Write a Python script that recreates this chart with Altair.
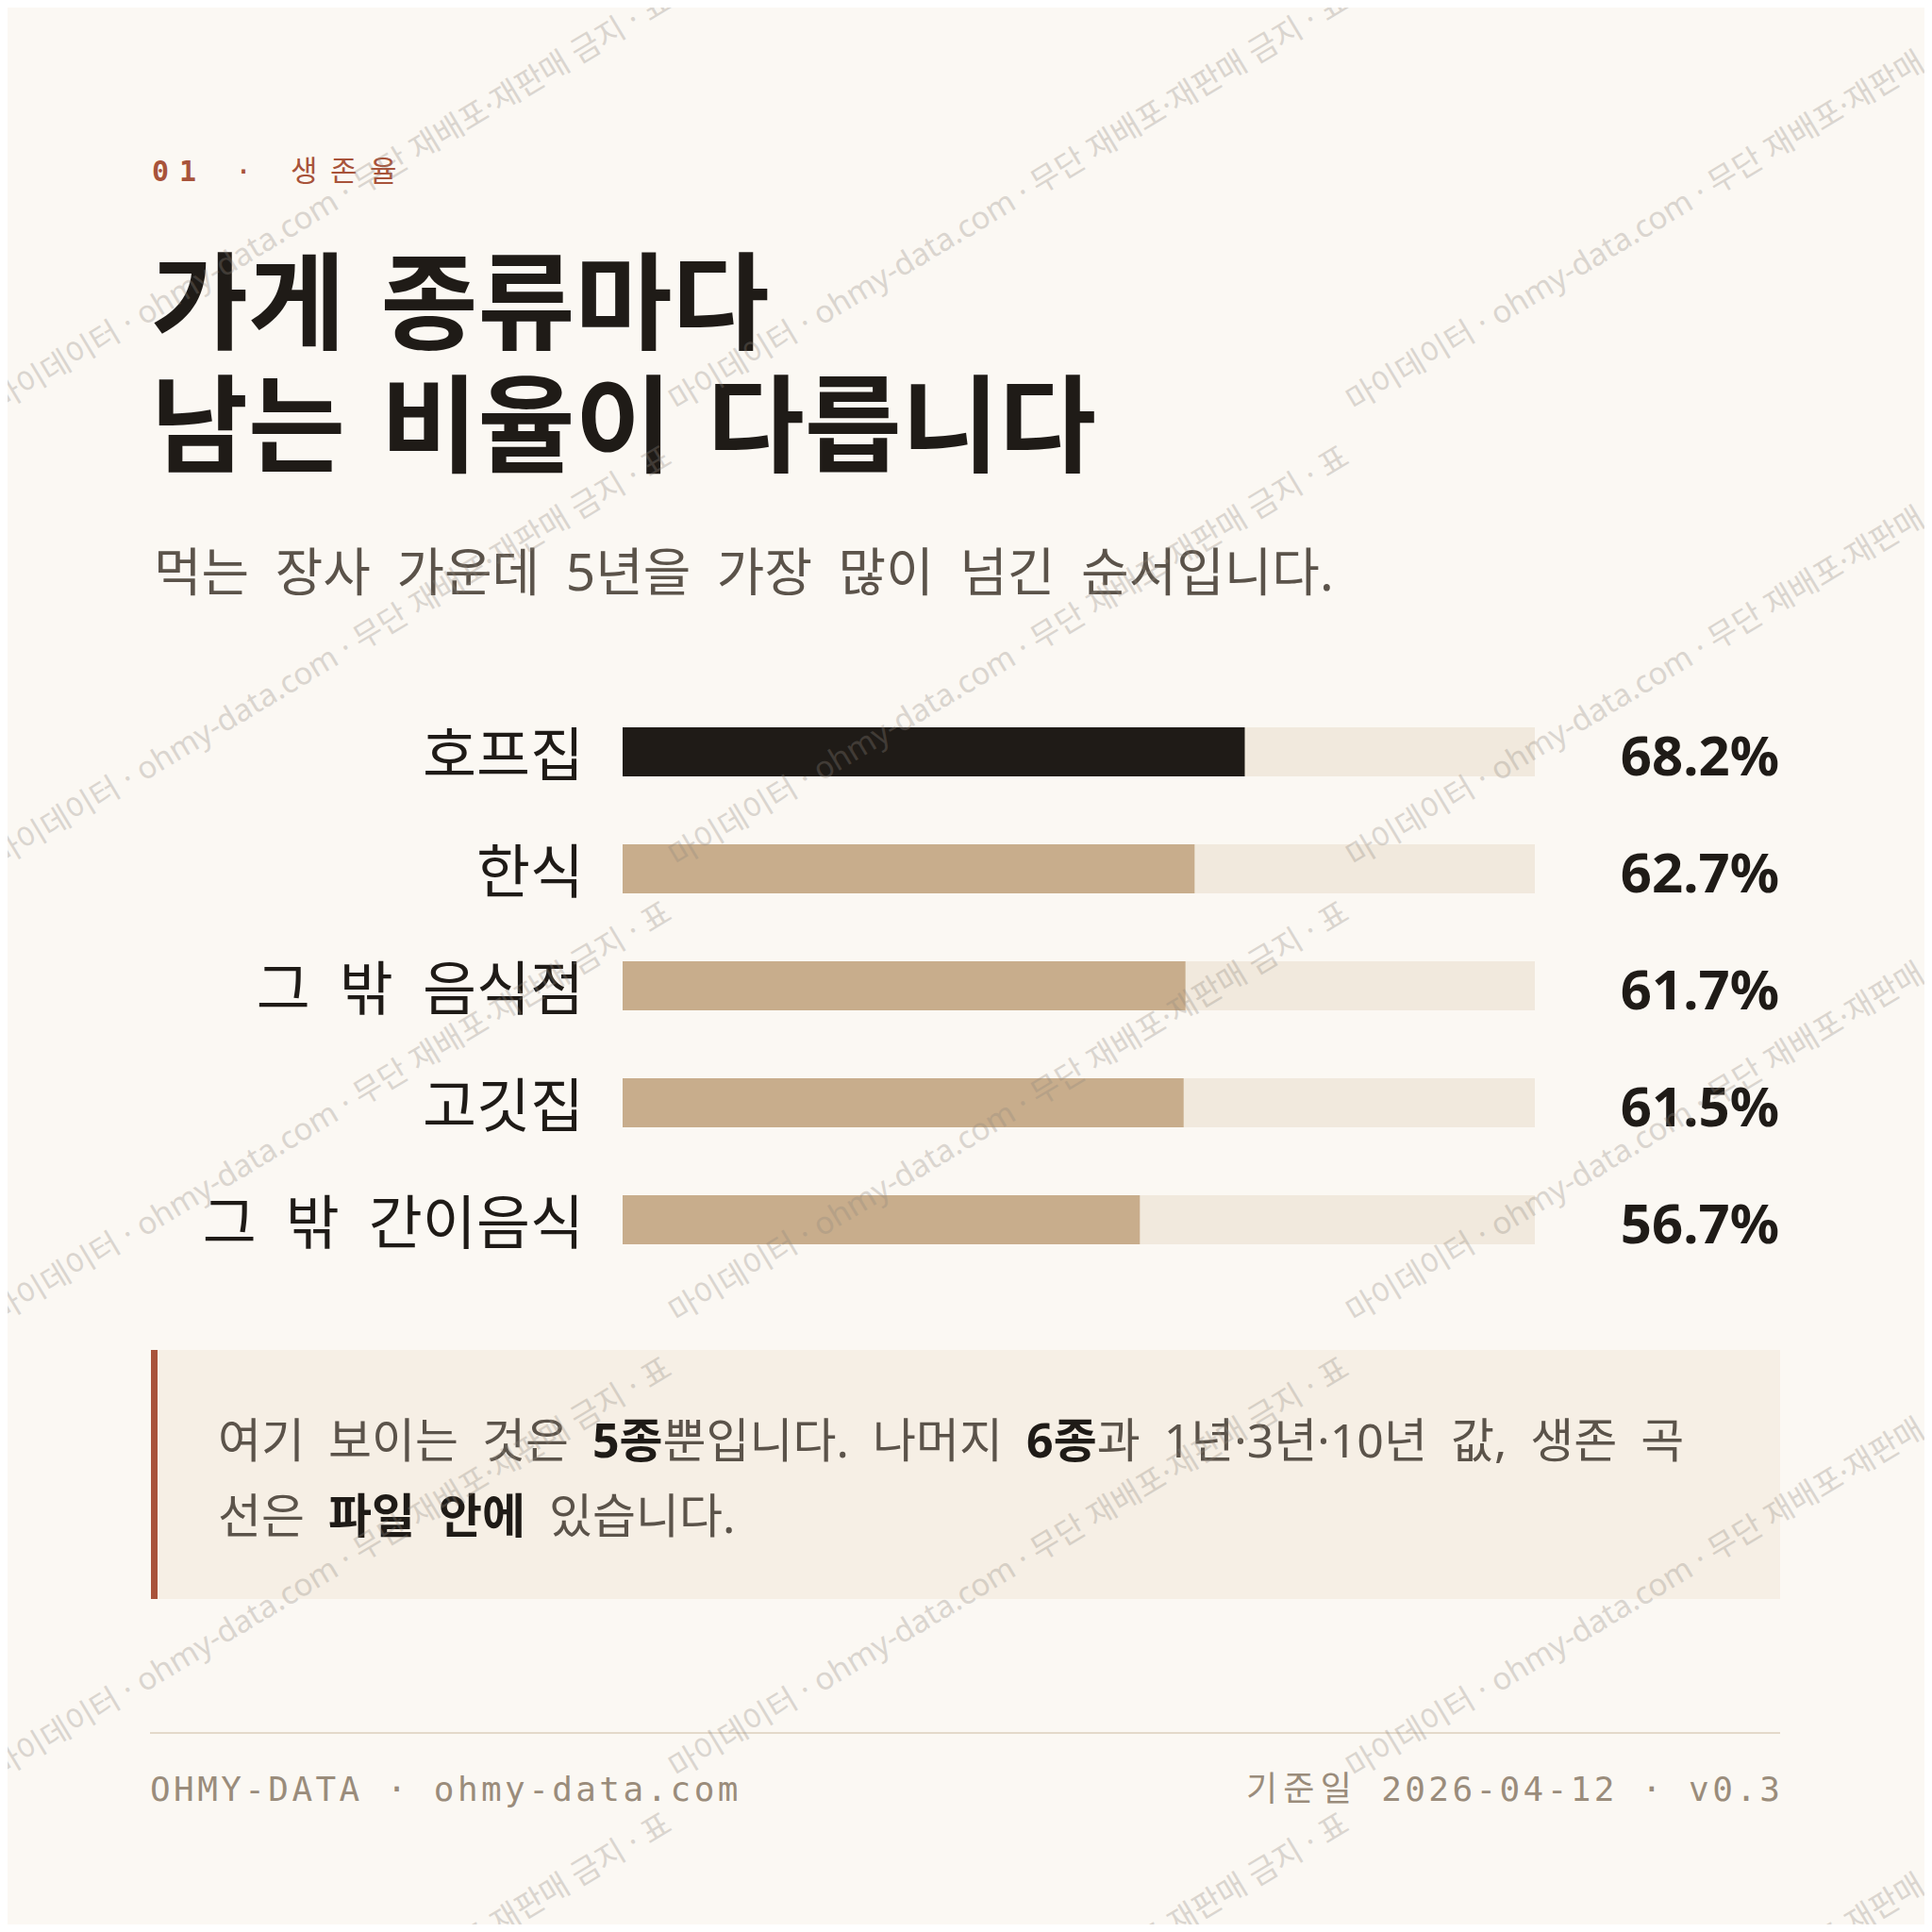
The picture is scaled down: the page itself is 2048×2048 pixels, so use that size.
import pandas as pd
import altair as alt

# page margin: chart origin sits 8px in from the page corner
OFF = 8

SANS = "'Noto Sans', 'Noto Sans CJK KR', sans-serif"
MONO = "'DejaVu Sans Mono', 'Noto Sans CJK KR', monospace"

BG = "#FBF8F3"
INK = "#1F1B17"
BODY = "#5B534A"
TAN = "#C8AD8C"
TRACK = "#F1E9DD"
RUST = "#A8533A"
MUTED = "#9A8C7B"

# ---- data ----
categories = ["호프집", "한식", "그 밖 음식점", "고깃집", "그 밖 간이음식"]
rates = [68.2, 62.7, 61.7, 61.5, 56.7]
highlight = "호프집"

kicker_num = "01"
kicker_rest = " · 생존율"
title_lines = ["가게 종류마다", "남는 비율이 다릅니다"]
subtitle = "먹는 장사 가운데 5년을 가장 많이 넘긴 순서입니다."

# (text, bold) - a leading space means a gap before the segment
note_line1 = [("여기 보이는 것은", False), (" 5종", True), ("뿐입니다. 나머지", False),
              (" 6종", True), ("과 1년·3년·10년 값, 생존 곡", False)]
note_line2 = [("선은", False), (" 파일 안에", True), (" 있습니다.", False)]

footer_left = "OHMY-DATA · ohmy-data.com"
footer_right = "기준일 2026-04-12 · v0.3"
watermark = "마이데이터 · ohmy-data.com · 무단 재배포·재판매 금지 · 표"

WIDE = "\u2002"  # en space, closer to the wide word gaps of the original


def wide(s, gap=WIDE):
    return s.replace(" ", gap)


def is_hangul(ch):
    return "\uac00" <= ch <= "\ud7a3"


def em_width(s, bold=False):
    # rough advance widths: Hangul from Noto Sans CJK KR, the rest from Noto Sans
    w = 0.0
    for ch in s:
        if is_hangul(ch):
            w += 0.92
        elif ch == " ":
            w += 0.26
        elif ch == WIDE:
            w += 0.5
        elif ch.isdigit():
            w += 0.572
        elif ch in ".,·":
            w += 0.27
        else:
            w += 0.55
    return w


def rich_line(segments, x0, y, size):
    rows = []
    x = x0
    for text, bold in segments:
        lead = len(text) - len(text.lstrip(" "))
        x += lead * 0.5 * size
        body = wide(text.strip(" "))
        rows.append({"x": x - OFF, "y": y - OFF, "t": body, "bold": bold})
        x += em_width(body, bold) * size
    return rows


def mono_chars(s, x0, y, size, spacing, align="left"):
    adv = [(size if is_hangul(ch) else 0.602 * size) + spacing for ch in s]
    total = sum(adv) - spacing
    x = x0 if align == "left" else x0 - total
    rows = []
    for ch, a in zip(s, adv):
        if ch != " ":
            rows.append({"x": x - OFF, "y": y - OFF, "t": ch})
        x += a
    return rows


def text_layer(rows, size, color, weight=400, font=SANS, align="left", angle=0, opacity=1.0):
    return alt.Chart(pd.DataFrame(rows)).mark_text(
        align=align, baseline="alphabetic", fontSize=size, font=font,
        fontWeight=weight, color=color, angle=angle, opacity=opacity
    ).encode(
        x=alt.X("x:Q", scale=None, axis=None),
        y=alt.Y("y:Q", scale=None, axis=None),
        text="t:N",
    )


def box(x, x2, y, y2, color):
    return alt.Chart(pd.DataFrame({"a": [0]})).mark_rect(color=color).encode(
        x=alt.value(x - OFF), x2=alt.value(x2 - OFF),
        y=alt.value(y - OFF), y2=alt.value(y2 - OFF),
    )


# ---- bars ----
bars_df = pd.DataFrame({
    "category": categories,
    "shown": [wide(c) for c in categories],
    "rate": rates,
    "full": [100] * len(categories),
    "label": [f"{v:.1f}%" for v in rates],
})

xscale = alt.Scale(domain=[0, 100], range=[660 - OFF, 1627 - OFF], zero=True, nice=False)
yscale = alt.Scale(type="band", domain=categories, range=[771 - OFF, 1319 - OFF],
                   paddingInner=0.58, paddingOuter=0)
y_enc = alt.Y("category:N", scale=yscale, axis=None, sort=categories)

base = alt.Chart(bars_df)
track = base.mark_bar(color=TRACK).encode(
    x=alt.X("full:Q", scale=xscale, axis=None), y=y_enc)
value_bar = base.mark_bar().encode(
    x=alt.X("rate:Q", scale=xscale, axis=None), y=y_enc,
    color=alt.condition(alt.datum.category == highlight, alt.value(INK), alt.value(TAN)))
cat_labels = base.mark_text(align="right", baseline="alphabetic", dy=26,
                            fontSize=62, font=SANS, color=INK).encode(
    x=alt.value(619 - OFF), y=y_enc, text="shown:N")
val_labels = base.mark_text(align="right", baseline="alphabetic", dy=25,
                            fontSize=58, font=SANS, fontWeight=700, color=INK).encode(
    x=alt.value(1886 - OFF), y=y_enc, text="label:N")

# ---- header, title, subtitle ----
kicker_bold = text_layer(mono_chars(kicker_num, 161, 192, 30, 11), 30, RUST, weight=700, font=MONO)
kicker_reg = text_layer(
    mono_chars(kicker_rest, 161 + 2 * (0.602 * 30 + 11), 192, 31, 11), 31, RUST, font=MONO)

title = text_layer(
    [{"x": 160 - OFF, "y": 362 - OFF, "t": wide(title_lines[0], "\u2004")},
     {"x": 160 - OFF, "y": 492 - OFF, "t": wide(title_lines[1], "\u2004")}],
    112, INK, weight=700)
sub = text_layer([{"x": 163 - OFF, "y": 626 - OFF, "t": wide(subtitle)}], 55, BODY)

# ---- note box ----
note_rows = rich_line(note_line1, 231, 1545, 50) + rich_line(note_line2, 231, 1625, 50)
note_df = pd.DataFrame(note_rows)
note_reg = text_layer(note_df[~note_df.bold].to_dict("records"), 50, BODY)
note_bold = text_layer(note_df[note_df.bold].to_dict("records"), 50, INK, weight=700)
note_bg = box(160, 1887, 1431, 1695, "#F6EFE5")
note_bar = box(160, 167, 1431, 1695, RUST)

# ---- footer ----
footer_rule = box(159, 1887, 1836, 1838, "#E3D9CA")
foot_l = text_layer(mono_chars(footer_left, 159, 1909, 36, 3.4), 36, MUTED, font=MONO)
foot_r = text_layer(mono_chars(footer_right, 1887, 1909, 36, 3.4, align="right"), 36, MUTED, font=MONO)

# ---- watermark tiles ----
wm_rows = [{"x": 718 * c - OFF, "y": 437 + 483 * r - OFF, "t": watermark}
           for c in range(3) for r in range(5)]
wm = text_layer(wm_rows, 33, "#8F877D", angle=329, opacity=0.3)

chart = alt.layer(
    note_bg, note_bar, footer_rule,
    track, value_bar, cat_labels, val_labels,
    kicker_bold, kicker_reg, title, sub,
    note_reg, note_bold, foot_l, foot_r,
    wm,
).resolve_scale(
    x="independent", y="independent"
).properties(
    width=2032, height=2032, padding=0,
    autosize=alt.AutoSizeParams(type="none"),
).configure(
    background=BG
).configure_view(
    stroke=None
)

chart.save("out.html", embed_options={"renderer": "svg", "actions": False})
